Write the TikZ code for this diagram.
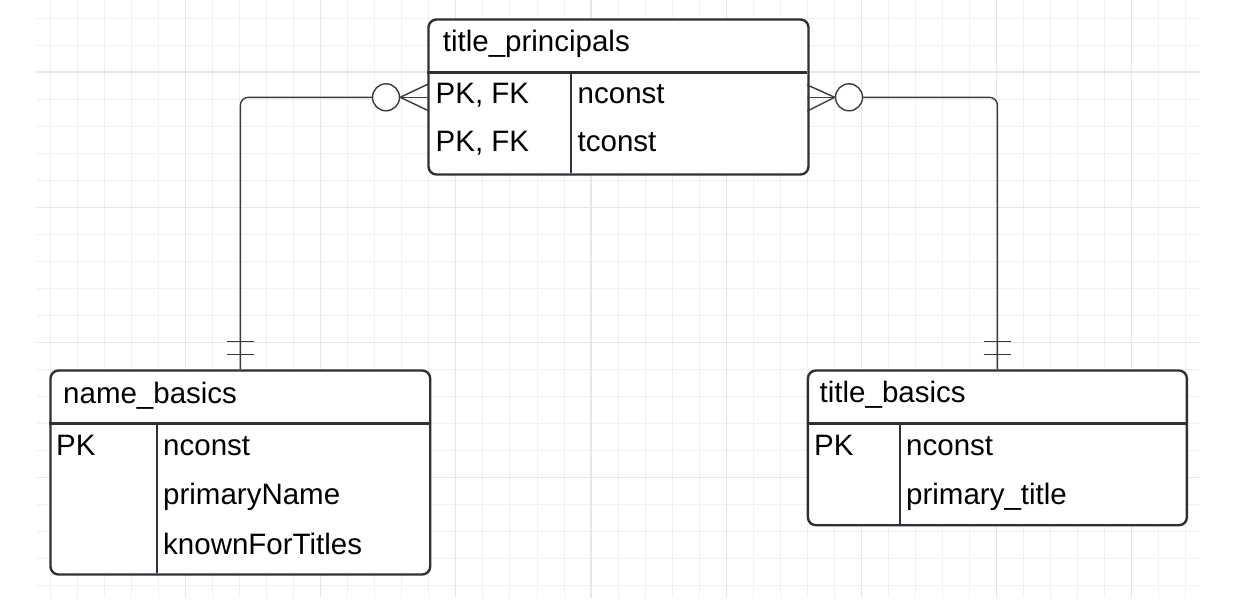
\documentclass[tikz,border=0pt]{standalone}
\usepackage{fontspec}
\setmainfont{Liberation Sans}
\definecolor{minorgrid}{HTML}{F1F1F1}
\definecolor{majorgrid}{HTML}{E6E6E6}
\definecolor{bordercol}{HTML}{2D3035}
\definecolor{conncol}{HTML}{3A3A3A}
\tikzset{
  minorline/.style={draw=minorgrid, line width=0.9pt},
  majorline/.style={draw=majorgrid, line width=1.1pt},
  tablebox/.style={rectangle, draw=bordercol, line width=2.4pt, rounded corners=8pt, fill=white, inner sep=0pt, anchor=north west},
  rule/.style={draw=bordercol, line width=2.4pt},
  txt/.style={anchor=base west, inner sep=0pt, text=black, font=\fontsize{29.5}{32}\selectfont},
  connline/.style={draw=conncol, line width=1.4pt},
  circ/.style={circle, draw=conncol, line width=1.4pt, fill=white, minimum size=27pt, inner sep=0pt},
}
\begin{document}
\begin{tikzpicture}[x=1pt,y=-1pt]
\useasboundingbox (0,0) rectangle (1252,600);
% grid
\foreach \i in {0,...,42} \draw[minorline] ({50.6+27.02*\i},0) -- ({50.6+27.02*\i},598);
\foreach \j in {-2,...,19} \draw[minorline] (37,{72+27.02*\j}) -- (1200,{72+27.02*\j});
\foreach \i in {0,...,7} \draw[majorline] ({185.7+135.1*\i},0) -- ({185.7+135.1*\i},598);
\foreach \j in {0,...,3} \draw[majorline] (37,{72+135.1*\j}) -- (1200,{72+135.1*\j});

% tables
\node[tablebox, minimum width=380pt, minimum height=155pt] (tp) at (427.3,18.3) {};
\node[tablebox, minimum width=379.7pt, minimum height=204pt] (nb) at (49.3,369.3) {};
\node[tablebox, minimum width=379pt, minimum height=154.7pt] (tb) at (806.7,369.3) {};

% inner rules
\draw[rule] (427.3,72.3) -- (807.3,72.3);
\draw[rule] (570.7,72.3) -- (570.7,173.3);
\draw[rule] (49.3,423.3) -- (429,423.3);
\draw[rule] (156.7,423.3) -- (156.7,573.3);
\draw[rule] (806.7,423.3) -- (1185.7,423.3);
\draw[rule] (900,423.3) -- (900,524);

% texts
\node[txt] (tpH) at (442.7,51.7) {title\_principals};
\node[txt] (tpK1) at (435.5,103.3) {PK, FK};
\node[txt] (tpK2) at (435.5,151.7) {PK, FK};
\node[txt] (tpF1) at (577.5,103.3) {nconst};
\node[txt] (tpF2) at (577.5,151.7) {tconst};

\node[txt] (nbH) at (63,403.3) {name\_basics};
\node[txt] (nbK1) at (56,455) {PK};
\node[txt] (nbF1) at (163,455) {nconst};
\node[txt] (nbF2) at (163,504.5) {primaryName};
\node[txt] (nbF3) at (163,554) {knownForTitles};

\node[txt] (tbH) at (819.5,402.7) {title\_basics};
\node[txt] (tbK1) at (814,455) {PK};
\node[txt] (tbF1) at (906,455) {nconst};
\node[txt] (tbF2) at (906,504) {primary\_title};

% connectors
\node[circ] (cl) at (386,97.3) {};
\node[circ] (cr) at (849,97.3) {};
\coordinate (tpL) at (428.3,97.3);
\coordinate (tpLa) at (428.3,84);
\coordinate (tpLb) at (428.3,110.7);
\coordinate (tpR) at (807.3,97.3);
\coordinate (tpRa) at (807.3,85);
\coordinate (tpRb) at (807.3,111);

\draw[connline] (cl.east) -- (tpL);
\draw[connline] (cl.east) -- (tpLa);
\draw[connline] (cl.east) -- (tpLb);
\draw[connline] (cr.west) -- (tpR);
\draw[connline] (cr.west) -- (tpRa);
\draw[connline] (cr.west) -- (tpRb);

\draw[connline, rounded corners=8pt] (cl.west) -| (nb.north);
\draw[connline, rounded corners=8pt] (cr.east) -| (tb.north);

\draw[connline] ([xshift=-13.5pt,yshift=27.6pt]nb.north) -- ++(27,0);
\draw[connline] ([xshift=-13.5pt,yshift=15pt]nb.north) -- ++(27,0);
\draw[connline] ([xshift=-13.5pt,yshift=27.6pt]tb.north) -- ++(27,0);
\draw[connline] ([xshift=-13.5pt,yshift=15pt]tb.north) -- ++(27,0);
\end{tikzpicture}
\end{document}
